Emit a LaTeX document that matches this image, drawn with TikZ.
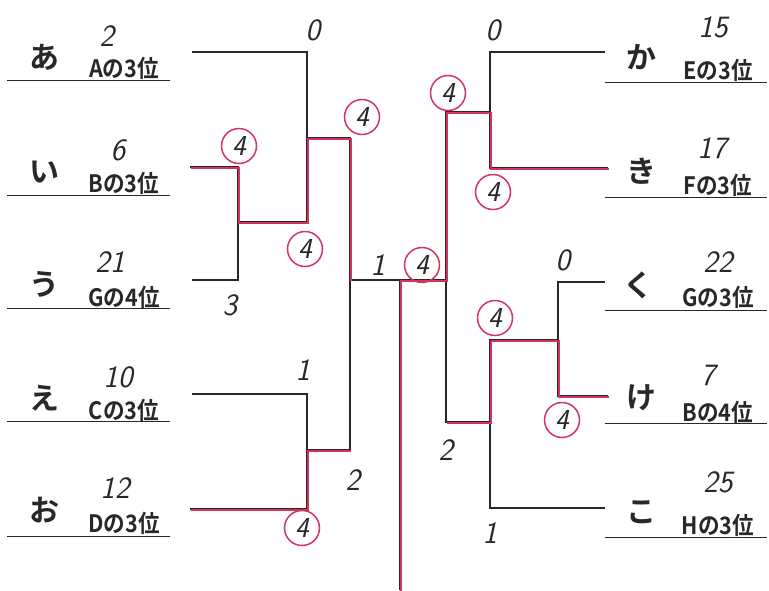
\documentclass[tikz,border=0pt]{standalone}
\usepackage{fontspec}
\newfontfamily\jpfont{Noto Sans CJK JP}[BoldFont={Noto Sans CJK JP Bold}]
\usetikzlibrary{calc}
\definecolor{penred}{RGB}{212,52,92}
\definecolor{ink}{RGB}{40,40,40}

\begin{document}
\begin{tikzpicture}[
    x=1pt, y=-1pt,
    kana/.style={font=\jpfont\bfseries\fontsize{30}{30}\selectfont, text=ink, inner sep=0pt},
    seed/.style={font=\jpfont\bfseries\fontsize{24}{24}\selectfont, text=ink, inner sep=0pt},
    score/.style={font=\sffamily\itshape\fontsize{31}{31}\selectfont, text=ink, inner sep=0pt},
    ring/.style={circle, draw=penred, line width=1.5pt, minimum size=35pt, inner sep=0pt, font=\sffamily\itshape\fontsize{29}{29}\selectfont, text=ink},
    rule/.style={draw=ink, line width=0.9pt},
    bk/.style={draw=ink, line width=1.5pt},
    win/.style={draw=penred, line width=2pt, transform canvas={shift={(1pt,-1pt)}}}
  ]
  \useasboundingbox[fill=white] (0,0) rectangle (769,590);

  % --- LEFT ENTRIES ---
  \node[kana] (k-a) at (45,57) {あ};
  \node[score] (p-a) at (107,36) {2};
  \node[seed] (s-a) at (124,68) {\scalebox{.9}[1]{Aの3位}};
  \draw[rule] (7,80) -- (170,80);

  \node[kana] (k-i) at (45,172) {い};
  \node[score] (p-i) at (118,150) {6};
  \node[seed] (s-i) at (124,183) {\scalebox{.9}[1]{Bの3位}};
  \draw[rule] (7,195) -- (170,195);

  \node[kana] (k-u) at (45,284) {う};
  \node[score] (p-u) at (110,262) {21};
  \node[seed] (s-u) at (124,297) {\scalebox{.9}[1]{Gの4位}};
  \draw[rule] (7,308) -- (170,308);

  \node[kana] (k-e) at (45,398) {え};
  \node[score] (p-e) at (118,377) {10};
  \node[seed] (s-e) at (124,410) {\scalebox{.9}[1]{Cの3位}};
  \draw[rule] (7,421) -- (170,421);

  \node[kana] (k-o) at (45,510) {お};
  \node[score] (p-o) at (115,488) {12};
  \node[seed] (s-o) at (124,523) {\scalebox{.9}[1]{Dの3位}};
  \draw[rule] (7,536) -- (170,536);

  % --- RIGHT ENTRIES ---
  \node[kana] (k-ka) at (641,57) {か};
  \node[score] (p-ka) at (713,27) {15};
  \node[seed] (s-ka) at (718,70) {\scalebox{.9}[1]{Eの3位}};
  \draw[rule] (605,82) -- (767,82);

  \node[kana] (k-ki) at (641,171) {き};
  \node[score] (p-ki) at (712,148) {17};
  \node[seed] (s-ki) at (718,185) {\scalebox{.9}[1]{Fの3位}};
  \draw[rule] (605,197) -- (767,197);

  \node[kana] (k-ku) at (638,285) {く};
  \node[score] (p-ku) at (718,262) {22};
  \node[seed] (s-ku) at (718,297) {\scalebox{.9}[1]{Gの3位}};
  \draw[rule] (605,310) -- (767,310);

  \node[kana] (k-ke) at (641,398) {け};
  \node[score] (p-ke) at (708,375) {7};
  \node[seed] (s-ke) at (718,412) {\scalebox{.9}[1]{Bの4位}};
  \draw[rule] (605,423) -- (767,423);

  \node[kana] (k-ko) at (641,512) {こ};
  \node[score] (p-ko) at (718,482) {25};
  \node[seed] (s-ko) at (718,525) {\scalebox{.9}[1]{Hの3位}};
  \draw[rule] (605,537) -- (767,537);

  % --- BRACKET POINTS ---
  \coordinate (A) at (192,52);
  \coordinate (I) at (190,167);
  \coordinate (U) at (192,280);
  \coordinate (E) at (192,394);
  \coordinate (O) at (190,509);
  \coordinate (m1) at (238,222);
  \coordinate (m2) at (307,138);
  \coordinate (m3) at (307,450);
  \coordinate (sfL) at (350,280);
  \coordinate (fin) at (400,280);
  \coordinate (bot) at (400,590);
  \coordinate (KA) at (605,52);
  \coordinate (KI) at (608,168);
  \coordinate (KU) at (605,282);
  \coordinate (KE) at (608,396);
  \coordinate (KO) at (605,508);
  \coordinate (m4) at (490,112);
  \coordinate (m5) at (558,340);
  \coordinate (m6) at (490,422);
  \coordinate (sfR) at (446,280);

  % --- BRACKET LINES ---
  \draw[bk] (I) -| (m1) |- (U);
  \draw[bk] (A) -| (m2) |- (m1);
  \draw[bk] (E) -| (m3) |- (O);
  \draw[bk] (m2) -| (sfL) |- (m3);
  \draw[bk] (KA) -| (m4) |- (KI);
  \draw[bk] (KU) -| (m5) |- (KE);
  \draw[bk] (m5) -| (m6) |- (KO);
  \draw[bk] (m4) -| (sfR) |- (m6);
  \draw[bk] (sfL) -- (fin) -- (sfR);
  \draw[bk] (fin) -- (bot);

  % --- WINNERS ---
  \draw[win] (I) -| (m1) -| (m2) -| (sfL);
  \draw[win] (O) -| (m3) -- (m3 -| sfL);
  \draw[win] (KI) -| (m4) -| (sfR) -- (fin) -- (bot);
  \draw[win] (KE) -| (m5) -| (m6) -- (m6 -| sfR);

  % --- SCORES ---
  \node[score] (g-a) at (313,30) {0};
  \node[ring] (g-i) at (239,146) {4};
  \node[score] (g-u) at (230,305) {3};
  \node[ring] (g-iu) at (305,249) {4};
  \node[ring] (g-l) at (362,117) {4};
  \node[score] (g-e) at (303,370) {1};
  \node[ring] (g-o) at (302,528) {4};
  \node[score] (g-eo) at (353,480) {2};
  \node[score] (g-fl) at (378,265) {1};
  \node[ring] (g-fr) at (422,265) {4};
  \node[score] (g-ka) at (493,30) {0};
  \node[ring] (g-r) at (448,93) {4};
  \node[ring] (g-ki) at (493,192) {4};
  \node[score] (g-ku) at (563,260) {0};
  \node[ring] (g-ke) at (562,420) {4};
  \node[ring] (g-kk) at (495,318) {4};
  \node[score] (g-ko) at (490,533) {1};
  \node[score] (g-rb) at (446,450) {2};

\end{tikzpicture}
\end{document}
